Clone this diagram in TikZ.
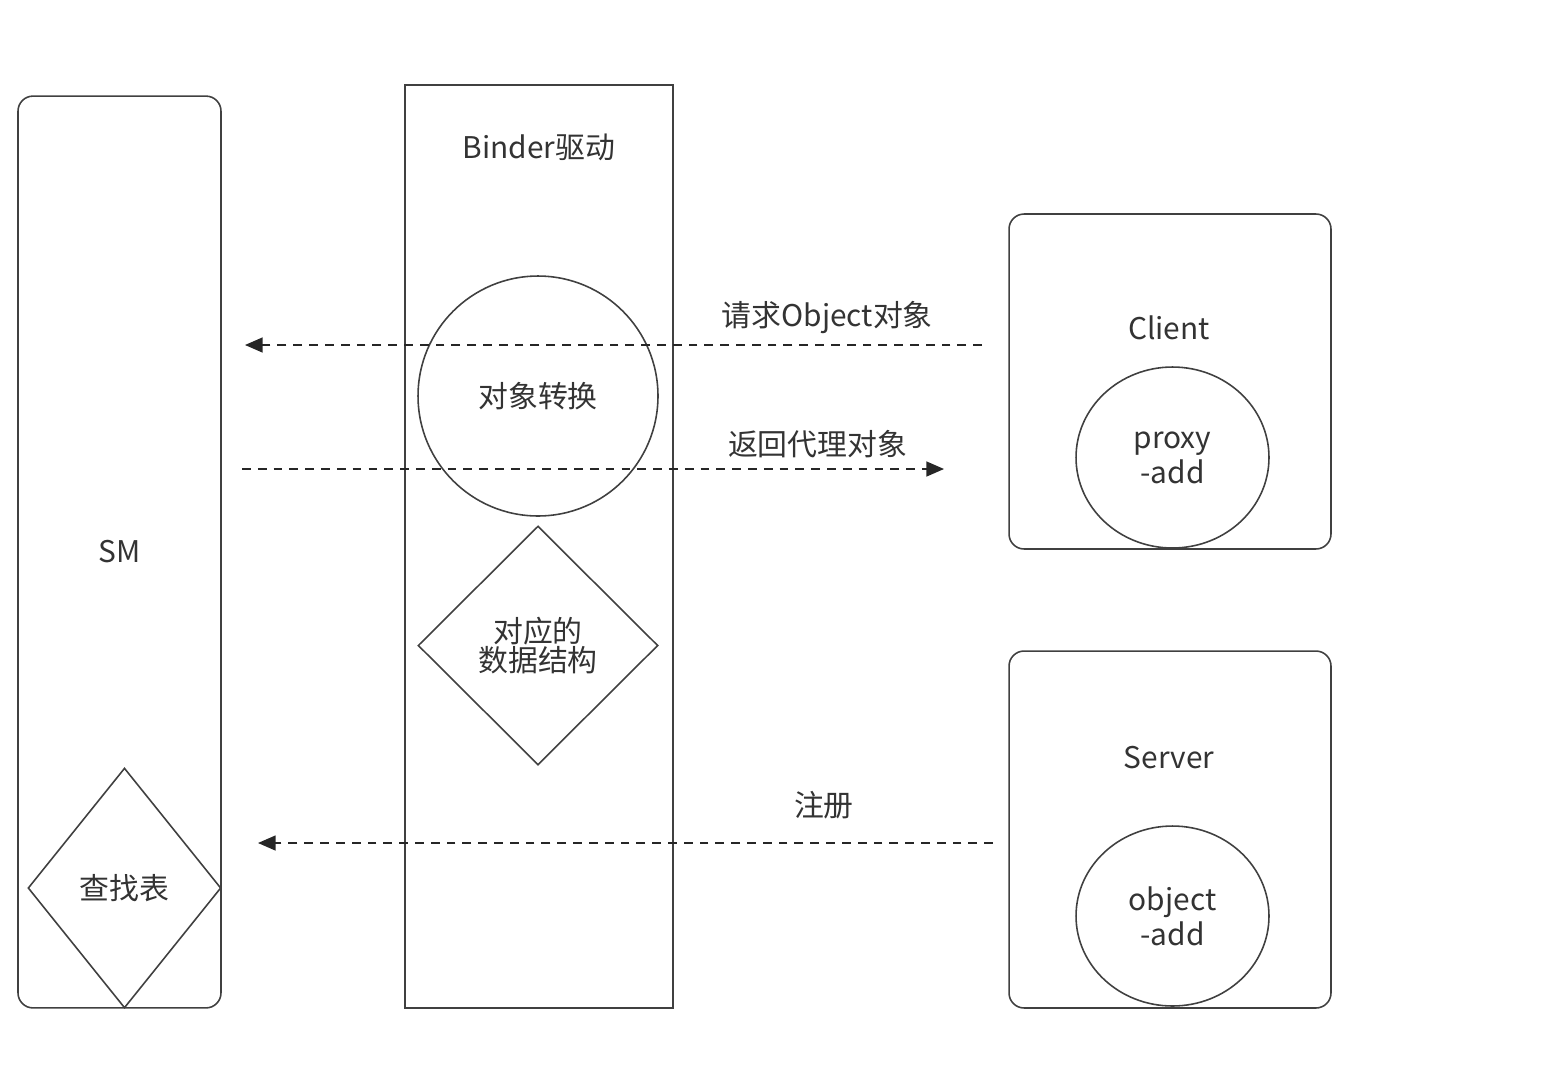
\documentclass[tikz,border=0pt]{standalone}
\usepackage{fontspec}
\setmainfont{Noto Sans CJK SC}
\usetikzlibrary{arrows.meta, shapes.geometric, positioning}

\begin{document}
\begin{tikzpicture}[
				x=0.02cm, y=-0.02cm,
				font=\fontsize{17}{20}\selectfont,
				every node/.style = {line width=0.9pt, draw=black!75, text=black!80},
				txt/.style = {draw=none, inner sep=0pt, align=center},
				lane/.style = {rectangle, rounded corners=0.3cm, minimum width=#1},
				bigbox/.style = {rectangle, minimum width=5.36cm, minimum height=18.46cm},
				side/.style = {rectangle, rounded corners=0.3cm, minimum width=6.44cm},
				blob/.style = {ellipse, inner sep=0pt, minimum width=3.86cm, align=center},
				rhomb/.style = {diamond, inner sep=0pt, align=center},
				line/.style = {-{Triangle[length=10pt, width=8.5pt]}, line width=0.8pt, black!85,
				               dash pattern=on 5pt off 4pt}
				]
				\useasboundingbox (0,0) rectangle (1550,1082);
				
				\node[lane=4.06cm, minimum height=18.24cm] (sm) at (119.5,552) {SM};
				\node[rhomb, minimum width=3.86cm, minimum height=4.8cm] (table) at (124.5,888) {查找表};
				
				\node[bigbox] (binder) at (539,546.5) {};
				\node[txt] (binderlbl) at (539,147) {Binder驱动};
				\node[circle, minimum size=4.8cm] (convert) at (538,396) {对象转换};
				\node[rhomb, minimum width=4.8cm, minimum height=4.78cm,
				      font=\fontsize{17}{17}\selectfont] (data) at (538,645.5) {对应的\\数据结构};
				
				\node[side, minimum height=6.7cm] (client) at (1170,381.5) {};
				\node[txt] (clientlbl) at (1169,328) {Client};
				\node[blob, minimum height=3.62cm] (proxy) at (1172.5,457.5) {proxy\\-add};
				
				\node[side, minimum height=7.14cm] (server) at (1170,829.5) {};
				\node[txt] (serverlbl) at (1169,758) {Server};
				\node[blob, minimum height=3.6cm] (object) at (1172.5,916) {object\\-add};
				
				\coordinate (reqS) at (982,345);
				\coordinate (reqE) at (245,345);
				\coordinate (retS) at (242,469);
				\coordinate (retE) at (944,469);
				\coordinate (regS) at (993,843);
				\coordinate (regE) at (258,843);
				
				\draw[line] (reqS) -- (reqE) node[txt, pos=0.21, above=6pt] (reqlbl) {请求Object对象};
				\draw[line] (retS) -- (retE) node[txt, pos=0.82, above=6pt] (retlbl) {返回代理对象};
				\draw[line] (regS) -- (regE) node[txt, pos=0.23, above=13pt] (reglbl) {注册};
			\end{tikzpicture}
\end{document}
